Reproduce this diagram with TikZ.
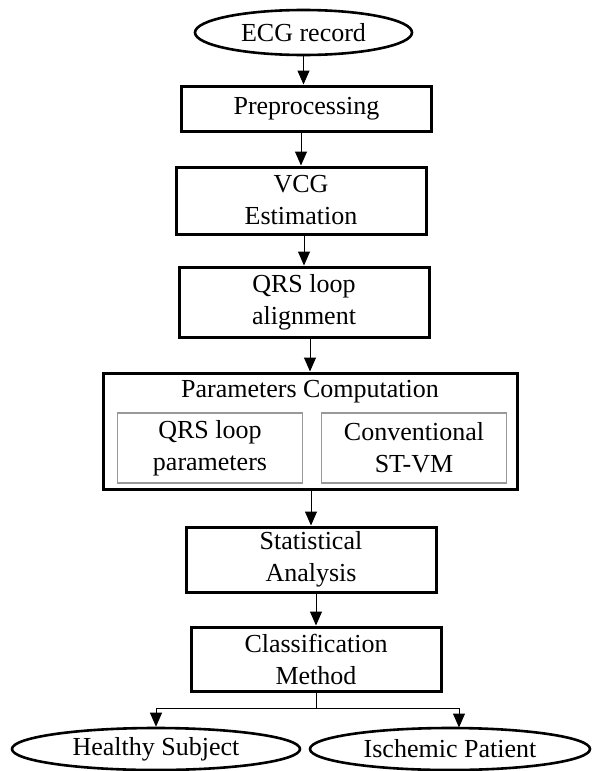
\documentclass[tikz,border=0pt]{standalone}
\usepackage{fontspec}
\setmainfont{Liberation Serif}
\usetikzlibrary{arrows.meta,shapes.geometric}
\begin{document}
\begin{tikzpicture}[x=0.5pt,y=-0.5pt,
  every node/.style={font=\fontsize{13}{16}\selectfont,align=center,inner sep=0pt},
  step box/.style={draw,line width=1.5pt,minimum width=125pt},
  term node/.style={draw,ellipse,line width=1.3pt},
  sub box/.style={draw=gray!80,line width=0.8pt,minimum width=92.5pt,minimum height=35pt},
  flow/.style={line width=0.5pt,-{Triangle[length=7pt,width=6pt]}}]
  \useasboundingbox (0,0) rectangle (592,771);

  \node[term node,minimum width=108.5pt,minimum height=22.5pt] (ecg) at (303.5,32.5) {ECG record};
  \node[step box,minimum height=22.5pt] (pre) at (306.5,108.5) {Preprocessing};
  \node[step box,minimum height=33.5pt] (vcg) at (301,200.5) {VCG\\Estimation};
  \node[step box,minimum height=35pt] (qrs) at (304,302) {QRS loop\\alignment};

  \node[draw,line width=1.5pt,minimum width=207pt,minimum height=58pt] (param) at (310,431) {};
  \node (ptitle) at (310,392) {Parameters Computation};
  \node[sub box] (qrspar) at (210,448) {QRS loop\\parameters};
  \node[sub box] (stvm) at (414,448) {Conventional\\ST-VM};

  \node[step box,minimum height=32.5pt] (stat) at (311,559.5) {Statistical\\Analysis};
  \node[step box,minimum height=32pt] (cls) at (316,659) {Classification\\Method};

  \node[term node,minimum width=144pt,minimum height=21pt] (hs) at (156,749) {Healthy Subject};
  \node[term node,minimum width=140pt,minimum height=21pt] (ip) at (450,749) {Ischemic Patient};

  \coordinate (split) at (316,708);
  \coordinate (ipin) at (459,727.5);

  \path[flow]
    (ecg.south) edge (ecg.south |- pre.north)
    (vcg.north |- pre.south) edge (vcg.north)
    (qrs.north |- vcg.south) edge (qrs.north)
    (param.north |- qrs.south) edge (param.north)
    (stat.north |- param.south) edge (stat.north)
    (cls.north |- stat.south) edge (cls.north);
  \draw[line width=0.5pt] (cls.south) -- (split);
  \draw[flow] (split) -| (hs.north);
  \draw[flow] (split) -| (ipin);
\end{tikzpicture}
\end{document}
